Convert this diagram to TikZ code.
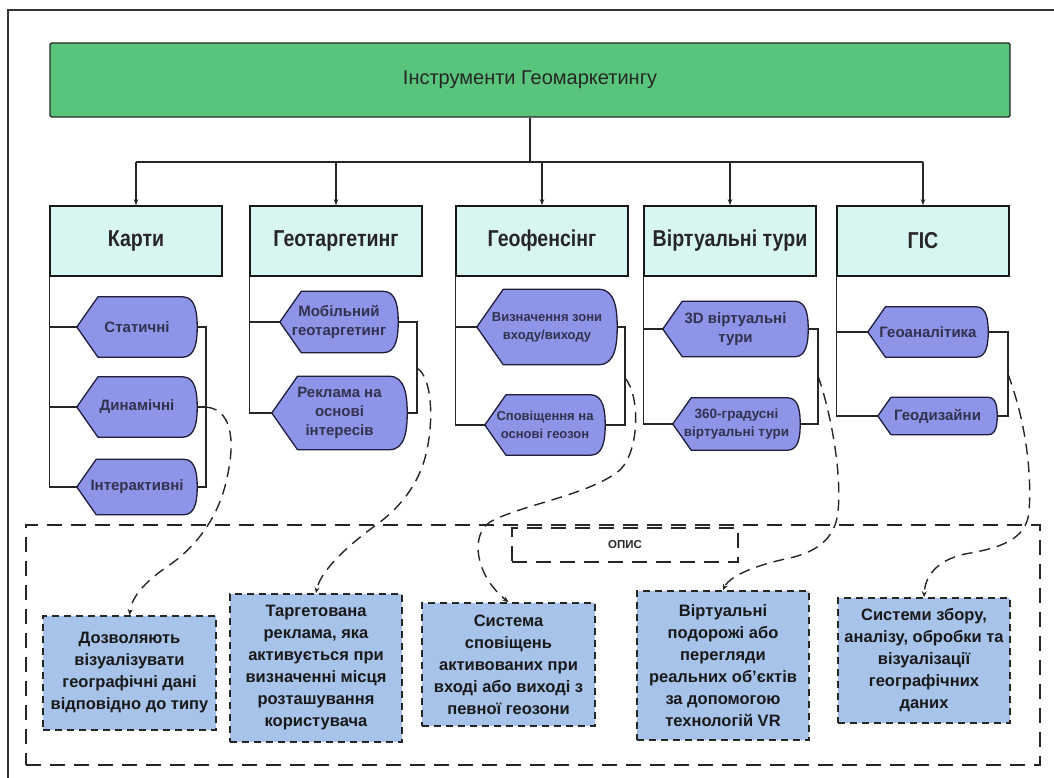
\documentclass[tikz,border=0pt]{standalone}
\usepackage{fontspec}
\setmainfont{Liberation Sans}
\newfontfamily\headfont[FakeStretch=0.85]{Liberation Sans}
\usetikzlibrary{arrows.meta,calc,backgrounds}

\definecolor{titlegreen}{RGB}{88,196,124}
\definecolor{headcyan}{RGB}{216,246,241}
\definecolor{itemfill}{RGB}{142,148,232}
\definecolor{itemline}{RGB}{30,30,60}
\definecolor{itemtext}{RGB}{50,50,78}
\definecolor{descblue}{RGB}{167,195,234}

\tikzset{
  titlebox/.style={draw=black!85, line width=1.4pt, fill=titlegreen, rounded corners=1.5pt,
    minimum width=960pt, minimum height=74pt, inner sep=0pt,
    font=\fontsize{20}{24}\selectfont, text=black!85},
  headbox/.style={draw=black!90, line width=1.7pt, fill=headcyan,
    minimum width=172pt, minimum height=70pt, inner sep=0pt,
    font=\headfont\bfseries\fontsize{23}{27}\selectfont, text=black!85},
  item/.style={inner sep=0pt, align=center, text=itemtext,
    font=\bfseries\fontsize{15}{19}\selectfont},
  smallitem/.style={item, font=\bfseries\fontsize{13}{18}\selectfont},
  itemshape/.style={fill=itemfill, draw=itemline, line width=1.3pt, line join=round},
  desc/.style={draw=black!85, line width=1.6pt, dash pattern=on 7pt off 5pt,
    fill=descblue, align=center, inner sep=0pt,
    font=\bfseries\fontsize{16.5}{22}\selectfont, text=black!90},
  descarea/.style={draw=black!85, line width=1.5pt, dash pattern=on 15pt off 9pt,
    inner sep=0pt},
  opisbox/.style={draw=black!85, line width=1.5pt, dash pattern=on 15pt off 9pt,
    inner sep=0pt, font=\bfseries\fontsize{11.5}{13}\selectfont, text=black!85},
  link/.style={line width=1.3pt, draw=black!85},
  bus/.style={line width=1.8pt, draw=black!85},
  down/.style={bus, -{Stealth[length=6pt,width=4.5pt]}},
  note/.style={line width=1.4pt, draw=black!85, dash pattern=on 11pt off 7pt,
    -{Stealth[length=6pt,width=5pt]}},
}

% display symbol: pointed on the left, rounded on the right, around node #1
\newcommand\drawdisplay[1]{%
  \path[itemshape] let \p1=(#1.north west), \p2=(#1.south east),
      \n1={0.35*(\y1-\y2)}, \n2={0.24*(\y1-\y2)} in
    (\x1,{(\y1+\y2)/2}) -- ({\x1+\n1},\y1) -- ({\x2-\n2},\y1)
    to[out=0,in=90] (\x2,{(\y1+\y2)/2})
    to[out=-90,in=0] ({\x2-\n2},\y2) -- ({\x1+\n1},\y2) -- cycle;}

\begin{document}
\begin{tikzpicture}[x=1pt,y=-1pt]
\useasboundingbox (0,0) rectangle (1054,778);

% frame
\draw[line width=1.6pt, black!80] (1054,10) -- (8,10) -- (8,778);

% root
\node[titlebox] (title) at (530,80) {Інструменти Геомаркетингу};

% categories
\node[headbox] (h1) at (136,241) {Карти};
\node[headbox] (h2) at (336,241) {Геотаргетинг};
\node[headbox] (h3) at (542,241) {Геофенсінг};
\node[headbox] (h4) at (730,241) {Віртуальні тури};
\node[headbox] (h5) at (923,241) {ГІС};

\coordinate (bus) at (531,162);
\draw[bus] (title.south) -- (title.south |- bus);
\draw[bus] (h1.north |- bus) -- (h5.north |- bus);
\foreach \h in {h1,h2,h3,h4,h5}
  \draw[down] (\h.north |- bus) -- (\h.north);

% items
\node[item, minimum width=120pt, minimum height=60pt] (s11) at (137,327) {Статичні};
\node[item, minimum width=120pt, minimum height=60pt] (s12) at (137,407) {Динамічні};
\node[item, minimum width=120pt, minimum height=55pt] (s13) at (137,487) {Інтерактивні};

\node[item, minimum width=118pt, minimum height=61pt] (s21) at (339,322) {Мобільний\\геотаргетинг};
\node[item, minimum width=135pt, minimum height=73pt] (s22) at (339.5,413) {Реклама на\\основі\\інтересів};

\node[smallitem, minimum width=140pt, minimum height=75pt] (s31) at (547,327) {Визначення зони\\входу/виходу};
\node[smallitem, minimum width=120pt, minimum height=60pt] (s32) at (545,425) {Сповіщення на\\основі геозон};

\node[item, minimum width=145pt, minimum height=55pt] (s41) at (735.5,329) {3D віртуальні\\тури};
\node[smallitem, minimum width=127pt, minimum height=52pt, font=\bfseries\fontsize{13.5}{18}\selectfont] (s42) at (736.5,424) {360-градусні\\віртуальні тури};

\node[item, minimum width=120pt, minimum height=50pt] (s51) at (928,332) {Геоаналітика};
\node[item, minimum width=119pt, minimum height=37pt] (s52) at (937.5,416) {Геодизайни};

\begin{pgfonlayer}{background}
  \foreach \s in {s11,s12,s13,s21,s22,s31,s32,s41,s42,s51,s52}
    \drawdisplay{\s};
\end{pgfonlayer}

% right-hand collecting lines
\coordinate (r1) at (206,0);
\coordinate (r2) at (417,0);
\coordinate (r3) at (625,0);
\coordinate (r4) at (818,0);
\coordinate (r5) at (1008,0);

% column 1
\draw[link] (h1.south west) -- (h1.south west |- s13.west) -- (s13.west);
\draw[link] (h1.south west |- s11.west) -- (s11.west);
\draw[link] (h1.south west |- s12.west) -- (s12.west);
\draw[link] (s11.east) -- (s11.east -| r1) -- (s13.east -| r1) -- (s13.east);
\draw[link] (s12.east) -- (s12.east -| r1);

% column 2
\draw[link] (h2.south west) -- (h2.south west |- s22.west) -- (s22.west);
\draw[link] (h2.south west |- s21.west) -- (s21.west);
\draw[link] (s21.east) -- (s21.east -| r2) -- (s22.east -| r2) -- (s22.east);

% column 3
\draw[link] (h3.south west) -- (h3.south west |- s32.west) -- (s32.west);
\draw[link] (h3.south west |- s31.west) -- (s31.west);
\draw[link] (s31.east) -- (s31.east -| r3) -- (s32.east -| r3) -- (s32.east);

% column 4
\draw[link] (h4.south west) -- (h4.south west |- s42.west) -- (s42.west);
\draw[link] (h4.south west |- s41.west) -- (s41.west);
\draw[link] (s41.east) -- (s41.east -| r4) -- (s42.east -| r4) -- (s42.east);

% column 5
\draw[link] (h5.south west) -- (h5.south west |- s52.west) -- (s52.west);
\draw[link] (h5.south west |- s51.west) -- (s51.west);
\draw[link] (s51.east) -- (s51.east -| r5) -- (s52.east -| r5) -- (s52.east);

% description area
\node[descarea, minimum width=1014pt, minimum height=240pt] (area) at (533,645) {};
\node[opisbox, minimum width=226pt, minimum height=34pt] (opis) at (625,545) {ОПИС};

\node[desc, minimum width=173pt, minimum height=114pt] (d1) at (129.5,673)
  {Дозволяють\\візуалізувати\\географічні дані\\відповідно до типу};
\node[desc, minimum width=172pt, minimum height=148pt] (d2) at (316,668)
  {Таргетована\\реклама, яка\\активується при\\визначенні місця\\розташування\\користувача};
\node[desc, minimum width=173pt, minimum height=123pt] (d3) at (508.5,664.5)
  {Система\\сповіщень\\активованих при\\вході або виході з\\певної геозони};
\node[desc, minimum width=172pt, minimum height=149pt] (d4) at (723,665.5)
  {Віртуальні\\подорожі або\\перегляди\\реальних об’єктів\\за допомогою\\технологій VR};
\node[desc, minimum width=172pt, minimum height=125pt] (d5) at (924,660.5)
  {Системи збору,\\аналізу, обробки та\\візуалізації\\географічних\\даних};

% links from each group to its description
\coordinate (m1) at (206,407);
\coordinate (m2) at (417,368);
\coordinate (m3) at (625,378);
\coordinate (m4) at (818,376);
\coordinate (m5) at (1008,374);

\draw[note] (m1) .. controls (236,410) and (234,450) .. (226,482)
  .. controls (218,518) and (195,548) .. (168,566)
  .. controls (145,582) and (132,596) .. (d1.north);
\draw[note] (m2) .. controls (433,378) and (434,425) .. (425,458)
  .. controls (416,490) and (395,512) .. (372,528)
  .. controls (345,548) and (320,572) .. (d2.north);
\draw[note] (m3) .. controls (640,395) and (640,450) .. (620,470)
  .. controls (590,495) and (520,505) .. (490,522)
  .. controls (470,535) and (475,575) .. (d3.north);
\draw[note] (m4) .. controls (830,410) and (842,470) .. (838,512)
  .. controls (835,540) and (815,552) .. (790,558)
  .. controls (760,564) and (730,575) .. (d4.north);
\draw[note] (m5) .. controls (1025,420) and (1032,470) .. (1029,512)
  .. controls (1026,540) and (1000,548) .. (965,554)
  .. controls (938,560) and (925,575) .. (d5.north);
\end{tikzpicture}
\end{document}
